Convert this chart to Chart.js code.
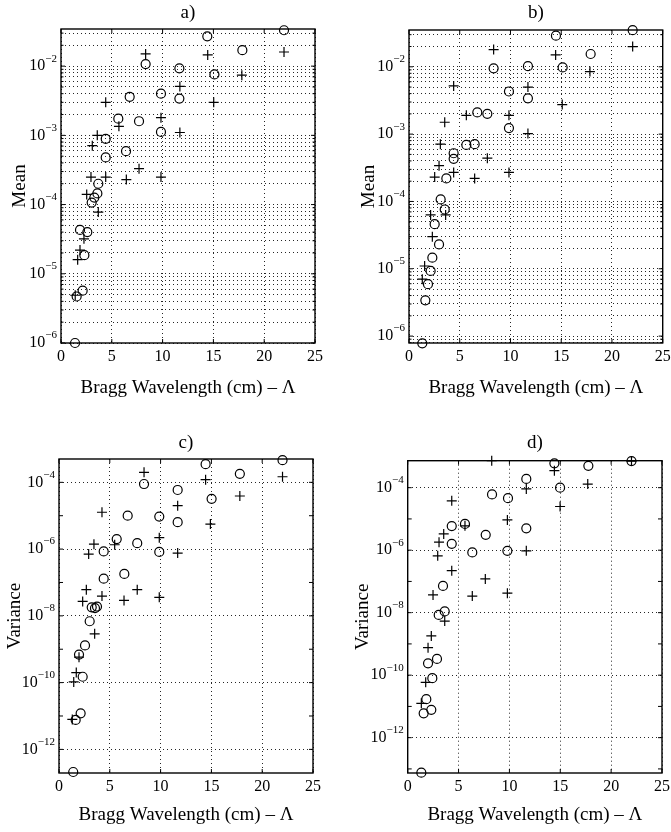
<!DOCTYPE html>
<html>
<head>
<meta charset="utf-8">
<script src="https://cdn.jsdelivr.net/npm/chart.js@4.4.1/dist/chart.umd.min.js"></script>
<style>
  html, body { margin: 0; padding: 0; background: #fff; }
  #fig { position: relative; width: 671px; height: 832px; }
  #fig canvas { position: absolute; }
</style>
</head>
<body>
<div id="fig">
  <canvas id="pa" width="335" height="416" style="left:0;top:0"></canvas>
  <canvas id="pb" width="336" height="416" style="left:335px;top:0"></canvas>
  <canvas id="pc" width="335" height="416" style="left:0;top:416px"></canvas>
  <canvas id="pd" width="336" height="416" style="left:335px;top:416px"></canvas>
</div>
<script>
// --- Data ---
// x = Bragg wavelength (cm); 'o' and '+' series per panel
const xTicks = [0, 5, 10, 15, 20, 25];
const meanExps = [-6, -5, -4, -3, -2];
const varExps = [-12, -10, -8, -6, -4];

// a) Mean
const aCircX = [1.38, 1.54, 1.87, 2.13, 2.3, 2.59, 3.02, 3.28, 3.58, 3.67, 4.4, 4.4, 5.64, 6.4, 6.76, 7.68, 8.33, 9.84, 9.84, 11.65, 11.65, 14.4, 15.1, 17.85, 21.95];
const aCircY = [1.0e-6, 4.7e-6, 4.3e-5, 5.7e-6, 1.86e-5, 4.0e-5, 1.07e-4, 1.26e-4, 1.45e-4, 2.0e-4, 4.8e-4, 8.9e-4, 1.74e-3, 5.9e-4, 3.6e-3, 1.6e-3, 1.07e-2, 4.0e-3, 1.12e-3, 9.3e-3, 3.4e-3, 2.7e-2, 7.6e-3, 1.7e-2, 3.3e-2];
const aPlusX = [1.4, 1.64, 1.87, 2.26, 2.53, 2.95, 3.08, 3.57, 3.67, 4.4, 4.4, 5.7, 6.43, 7.68, 8.33, 9.84, 9.84, 11.7, 11.7, 14.44, 15.03, 17.8, 21.95];
const aPlusY = [4.9e-6, 1.6e-5, 2.2e-5, 3.2e-5, 1.4e-4, 2.5e-4, 7.1e-4, 1.0e-3, 7.8e-5, 2.5e-4, 3.0e-3, 1.35e-3, 2.3e-4, 3.3e-4, 1.5e-2, 1.8e-3, 2.5e-4, 5.1e-3, 1.1e-3, 1.45e-2, 3.0e-3, 7.4e-3, 1.6e-2];

// b) Mean
const bCircX = [1.31, 1.61, 1.87, 2.13, 2.3, 2.53, 2.96, 3.12, 3.52, 3.68, 4.4, 4.4, 5.65, 6.47, 6.73, 7.72, 8.34, 9.85, 9.85, 11.72, 11.72, 14.48, 15.14, 17.9, 22.04];
const bCircY = [7.8e-7, 3.4e-6, 5.9e-6, 9.3e-6, 1.46e-5, 4.6e-5, 2.3e-5, 1.07e-4, 7.6e-5, 2.2e-4, 4.3e-4, 5.2e-4, 6.9e-4, 7.1e-4, 2.1e-3, 2.0e-3, 9.5e-3, 4.3e-3, 1.23e-3, 1.02e-2, 3.4e-3, 2.9e-2, 9.8e-3, 1.55e-2, 3.5e-2];
const bPlusX = [1.31, 1.54, 2.13, 2.3, 2.53, 2.96, 3.09, 3.52, 3.61, 4.4, 4.4, 5.65, 6.47, 7.72, 8.34, 9.85, 9.85, 11.72, 11.72, 14.45, 15.1, 17.83, 22.04];
const bPlusY = [7.0e-6, 1.1e-5, 6.3e-5, 3.0e-5, 2.3e-4, 3.4e-4, 7.1e-4, 1.5e-3, 6.3e-5, 2.7e-4, 5.2e-3, 1.9e-3, 2.2e-4, 4.4e-4, 1.8e-2, 1.9e-3, 2.7e-4, 5.0e-3, 1.02e-3, 1.5e-2, 2.75e-3, 8.5e-3, 2.0e-2];

// c) Variance
const cCircX = [1.4, 1.64, 2.13, 2.33, 1.97, 2.56, 3.02, 3.22, 3.54, 3.74, 4.4, 4.4, 5.68, 6.43, 6.76, 7.7, 8.37, 9.87, 9.87, 11.68, 11.68, 14.43, 15.02, 17.8, 22.0];
const cCircY = [2.1e-13, 7.6e-12, 1.2e-11, 1.5e-10, 6.9e-10, 1.3e-9, 6.9e-9, 1.8e-8, 1.7e-8, 1.9e-8, 1.3e-7, 8.5e-7, 2.0e-6, 1.8e-7, 1.0e-5, 1.5e-6, 8.9e-5, 9.4e-6, 8.2e-7, 5.9e-5, 6.4e-6, 3.5e-4, 3.2e-5, 1.8e-4, 4.6e-4];
const cPlusX = [1.31, 1.45, 1.7, 1.97, 2.33, 2.69, 2.92, 3.44, 3.51, 4.23, 4.23, 5.48, 6.4, 7.7, 8.37, 9.87, 9.87, 11.68, 11.68, 14.43, 14.9, 17.8, 22.0];
const cPlusY = [7.9e-12, 1.05e-10, 2.0e-10, 5.8e-10, 2.7e-8, 6.1e-8, 7.1e-7, 1.4e-6, 2.9e-9, 3.9e-8, 1.27e-5, 1.35e-6, 2.9e-8, 6.1e-8, 2.0e-4, 2.2e-6, 3.6e-8, 2.0e-5, 7.6e-7, 1.2e-4, 5.6e-6, 3.9e-5, 1.47e-4];

// d) Variance
const dCircX = [1.34, 1.57, 2.32, 1.83, 2.42, 2.0, 2.88, 3.05, 3.64, 3.47, 4.33, 4.33, 5.63, 6.35, 7.67, 8.29, 9.86, 9.8, 11.66, 11.66, 14.42, 14.98, 17.76, 22.0];
const dCircY = [7.6e-14, 6.0e-12, 7.8e-12, 1.7e-11, 8.0e-11, 2.4e-10, 3.3e-10, 8.5e-9, 1.1e-8, 7.2e-8, 1.6e-6, 5.9e-6, 6.9e-6, 8.5e-7, 3.1e-6, 6.1e-5, 4.6e-5, 9.5e-7, 1.9e-4, 5.0e-6, 6.0e-4, 1.0e-4, 5.0e-4, 7.1e-4];
const dPlusX = [1.34, 1.77, 2.0, 2.32, 2.49, 2.95, 3.08, 3.54, 3.64, 4.33, 4.33, 5.63, 6.35, 7.63, 8.26, 9.8, 9.8, 11.66, 11.66, 14.42, 14.98, 17.7, 22.0];
const dPlusY = [1.26e-11, 5.9e-11, 7.6e-10, 1.8e-9, 3.7e-8, 6.6e-7, 1.8e-6, 3.3e-6, 5.4e-9, 2.2e-7, 3.8e-5, 6.0e-6, 3.4e-8, 1.2e-7, 7.3e-4, 9.3e-6, 4.2e-8, 9.1e-5, 9.5e-7, 3.5e-4, 2.5e-5, 1.3e-4, 7.1e-4];

const SERIF = '"Liberation Serif", "Times New Roman", serif';
Chart.defaults.font.family = SERIF;
Chart.defaults.color = '#000';

// --- Panel layout ---
const panels = [
  { canvas: 'pa', title: 'a)', ylabel: 'Mean', yMin: 1e-6, yMax: 0.0344, exps: meanExps, minor: true,
    padTop: 29, padRight: 20, yw: 61, xh: 73, titleY: 13, ytp: 8.6, xtb: 16.5,
    cx: aCircX, cy: aCircY, px: aPlusX, py: aPlusY },
  { canvas: 'pb', title: 'b)', ylabel: 'Mean', yMin: 7.9e-7, yMax: 0.0352, exps: meanExps, minor: true,
    padTop: 30, padRight: 8.3, yw: 74, xh: 73, titleY: 13, ytp: 22.6, xtb: 16.5,
    cx: bCircX, cy: bCircY, px: bPlusX, py: bPlusY },
  { canvas: 'pc', title: 'c)', ylabel: 'Variance', yMin: 1.96e-13, yMax: 5.0e-4, exps: varExps, minor: false,
    padTop: 43, padRight: 22, yw: 59, xh: 59, titleY: 27, ytp: 3.6, xtb: 5.5,
    cx: cCircX, cy: cCircY, px: cPlusX, py: cPlusY },
  { canvas: 'pd', title: 'd)', ylabel: 'Variance', yMin: 7.4e-14, yMax: 7.3e-4, exps: varExps, minor: false,
    padTop: 44.7, padRight: 9, yw: 72.7, xh: 59, titleY: 27, ytp: 16.6, xtb: 5.5,
    cx: dCircX, cy: dCircY, px: dPlusX, py: dPlusY },
];

function gridValues(p) {
  const vals = [];
  const lo = Math.floor(Math.log10(p.yMin)), hi = Math.ceil(Math.log10(p.yMax));
  for (let e = lo; e <= hi; e++) {
    if (p.minor) {
      for (let k = 1; k <= 9; k++) vals.push(k * Math.pow(10, e));
    } else if (p.exps.includes(e)) {
      vals.push(Math.pow(10, e));
    }
  }
  return vals.filter(v => v >= p.yMin * 0.999 && v <= p.yMax * 1.001);
}

// frame, inward ticks, 10^n labels and panel letter
const panelDecor = {
  id: 'panelDecor',
  afterDraw(chart, args, opts) {
    const { ctx, chartArea: ca, scales: { x, y } } = chart;
    ctx.save();
    ctx.strokeStyle = '#000';
    ctx.lineWidth = 1.4;
    ctx.setLineDash([]);
    ctx.strokeRect(ca.left, ca.top, ca.right - ca.left, ca.bottom - ca.top);

    ctx.lineWidth = 1;
    ctx.beginPath();
    xTicks.forEach(t => {
      const px = x.getPixelForValue(t);
      ctx.moveTo(px, ca.bottom); ctx.lineTo(px, ca.bottom - 4);
      ctx.moveTo(px, ca.top); ctx.lineTo(px, ca.top + 4);
    });
    const lo = Math.floor(Math.log10(opts.yMin)), hi = Math.ceil(Math.log10(opts.yMax));
    for (let e = lo; e <= hi; e++) {
      const mant = opts.minor ? [1, 2, 3, 4, 5, 6, 7, 8, 9] : [1];
      mant.forEach(k => {
        const v = k * Math.pow(10, e);
        if (v < opts.yMin || v > opts.yMax) return;
        const py = y.getPixelForValue(v);
        const len = k === 1 ? 4 : 2.5;
        ctx.moveTo(ca.left, py); ctx.lineTo(ca.left + len, py);
        ctx.moveTo(ca.right, py); ctx.lineTo(ca.right - len, py);
      });
    }
    ctx.stroke();

    ctx.fillStyle = '#000';
    ctx.textBaseline = 'middle';
    ctx.textAlign = 'right';
    opts.exps.forEach(e => {
      const py = y.getPixelForValue(Math.pow(10, e));
      const sup = '\u2212' + Math.abs(e);
      ctx.font = '11px ' + SERIF;
      const sw = ctx.measureText(sup).width;
      ctx.fillText(sup, ca.left - 4, py - 7.5);
      ctx.font = '16px ' + SERIF;
      ctx.fillText('10', ca.left - 4 - sw, py);
    });

    ctx.font = '19px ' + SERIF;
    ctx.textAlign = 'center';
    ctx.fillText(opts.title, (ca.left + ca.right) / 2, opts.titleY);
    ctx.restore();
  }
};

function pts(xs, ys) {
  return xs.map((v, i) => ({ x: v, y: ys[i] }));
}

panels.forEach(p => {
  const grid = gridValues(p);
  new Chart(document.getElementById(p.canvas), {
    type: 'scatter',
    data: {
      datasets: [
        { label: 'o', data: pts(p.cx, p.cy), pointStyle: 'circle', pointRadius: 4.5,
          borderColor: '#000', backgroundColor: 'rgba(0,0,0,0)', borderWidth: 1.2, clip: false },
        { label: '+', data: pts(p.px, p.py), pointStyle: 'cross', pointRadius: 5,
          borderColor: '#000', backgroundColor: '#000', borderWidth: 1.2, clip: false },
      ],
    },
    options: {
      responsive: false,
      animation: false,
      devicePixelRatio: 1,
      layout: { padding: { top: p.padTop, right: p.padRight, left: 0, bottom: 0 } },
      plugins: {
        legend: { display: false },
        tooltip: { enabled: false },
        panelDecor: { title: p.title, titleY: p.titleY, exps: p.exps, minor: p.minor, yMin: p.yMin, yMax: p.yMax },
      },
      scales: {
        x: {
          type: 'linear', min: 0, max: 25,
          afterBuildTicks: s => { s.ticks = xTicks.map(v => ({ value: v })); },
          afterFit: s => { s.height = p.xh; s.paddingLeft = 0; s.paddingRight = 0; },
          ticks: { font: { size: 16 }, color: '#000', padding: 4.5, maxRotation: 0, autoSkip: false },
          grid: { color: 'rgba(0,0,0,0.85)', lineWidth: 1, drawTicks: false },
          border: { display: false, dash: [1, 3] },
          title: { display: true, text: 'Bragg Wavelength (cm) \u2013 \u039B', color: '#000',
                   font: { size: 19 }, padding: { top: 0, bottom: p.xtb } },
        },
        y: {
          type: 'logarithmic', min: p.yMin, max: p.yMax,
          afterBuildTicks: s => { s.ticks = grid.map(v => ({ value: v })); },
          afterFit: s => { s.width = p.yw; s.paddingTop = 0; s.paddingBottom = 0; },
          ticks: { display: false },
          grid: { color: 'rgba(0,0,0,0.85)', lineWidth: 1, drawTicks: false },
          border: { display: false, dash: [1, 3] },
          title: { display: true, text: p.ylabel, color: '#000',
                   font: { size: 19 }, padding: { top: p.ytp, bottom: 0 } },
        },
      },
    },
    plugins: [panelDecor],
  });
});
</script>
</body>
</html>
